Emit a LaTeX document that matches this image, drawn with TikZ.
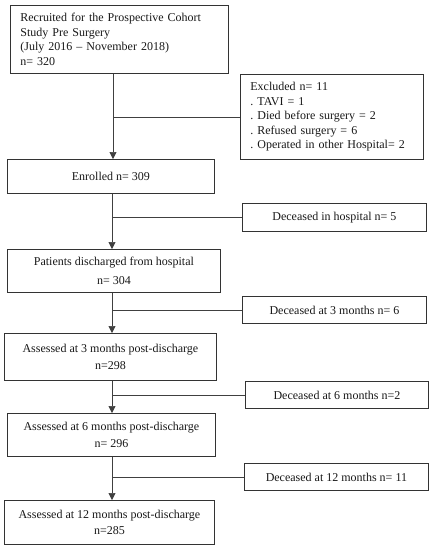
\documentclass[tikz,border=0pt]{standalone}
\usepackage{fontspec}
\setmainfont{Liberation Serif}
\usetikzlibrary{arrows.meta}
\frenchspacing
\begin{document}
\begin{tikzpicture}[x=1pt,y=1pt,
  box/.style={draw=black!80, line width=0.8pt, anchor=north west, inner sep=0pt,
    font=\fontsize{12}{14.5}\selectfont, text=black!90},
  lbox/.style={box, align=left, inner xsep=10pt},
  cbox/.style={box, align=center},
  conn/.style={draw=black!75, line width=0.7pt},
  arr/.style={conn, -{Triangle[width=7pt,length=7pt]}}]
\useasboundingbox (0,0) rectangle (432,-550);
\fill[white] (0,0) rectangle (432,-550);
\node[lbox, text width=198pt, minimum height=68pt] (b1) at (10,-5)
  {Recruited for the Prospective Cohort\\Study Pre Surgery\\(July 2016 -- November 2018)\\n= 320};
\node[lbox, text width=163pt, minimum height=85pt] (excl) at (240,-74)
  {Excluded n= 11\\. TAVI = 1\\. Died before surgery = 2\\. Refused surgery = 6\\. Operated in other Hospital= 2};
\node[cbox, minimum width=207pt, minimum height=34pt] (enr) at (7,-159) {Enrolled n= 309};
\node[cbox, minimum width=184pt, minimum height=28pt] (dh) at (242,-203) {Deceased in hospital n= 5};
\node[cbox, minimum width=213pt, minimum height=43pt] (pat) at (7,-249) {Patients discharged from hospital\\[5pt]n= 304};
\node[cbox, minimum width=184pt, minimum height=27pt] (d3) at (242,-296) {Deceased at 3 months n= 6};
\node[cbox, minimum width=212pt, minimum height=47pt] (a3) at (4,-333) {Assessed at 3 months post-discharge\\[2pt]n=298};
\node[cbox, minimum width=183pt, minimum height=27pt] (d6) at (245,-381) {Deceased at 6 months n=2};
\node[cbox, minimum width=208pt, minimum height=43pt] (a6) at (7,-413) {Assessed at 6 months post-discharge\\[2pt]n= 296};
\node[cbox, minimum width=184pt, minimum height=27pt] (d12) at (244,-463) {Deceased at 12 months n= 11};
\node[cbox, minimum width=210pt, minimum height=44pt] (a12) at (4,-500) {Assessed at 12 months post-discharge\\[2pt]n=285};
\coordinate (c1) at (113,0);
\coordinate (c2) at (112,0);
\draw[arr] (b1.south -| c1) -- (enr.north -| c1);
\draw[conn] (excl.west) -- (excl.west -| c1);
\draw[arr] (enr.south -| c2) -- (pat.north -| c2);
\draw[conn] (dh.west) -- (dh.west -| c2);
\draw[arr] (pat.south -| c2) -- (a3.north -| c2);
\draw[conn] (d3.west) -- (d3.west -| c2);
\draw[arr] (a3.south -| c2) -- (a6.north -| c2);
\draw[conn] (d6.west) -- (d6.west -| c2);
\draw[arr] (a6.south -| c2) -- (a12.north -| c2);
\draw[conn] (d12.west) -- (d12.west -| c2);
\end{tikzpicture}
\end{document}
